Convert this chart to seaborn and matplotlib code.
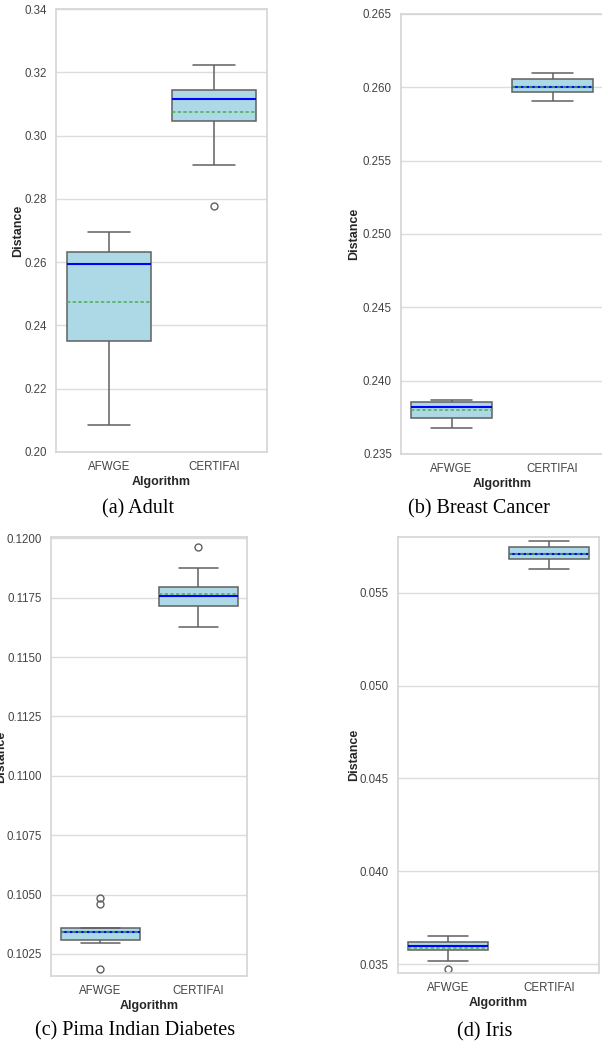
import numpy as np
import pandas as pd
import matplotlib
matplotlib.use("Agg")
import matplotlib.pyplot as plt
from matplotlib.ticker import FormatStrFormatter, MultipleLocator
import seaborn as sns

sns.set_theme(style="whitegrid")
plt.rcParams["font.family"] = ["Liberation Sans", "DejaVu Sans"]

algorithms = ["AFWGE", "CERTIFAI"]

# Counterfactual distances per run, one list per algorithm and dataset
adult_afwge = [0.2086, 0.2200, 0.2350, 0.2450, 0.2595, 0.2610, 0.2633, 0.2655, 0.2696]
adult_certifai = [0.2776, 0.2908, 0.3047, 0.3110, 0.3115, 0.3140, 0.3144, 0.3213, 0.3222]

cancer_afwge = [0.23677, 0.23710, 0.23748, 0.23790, 0.23823, 0.23847, 0.23857, 0.23862, 0.23868]
cancer_certifai = [0.25905, 0.25930, 0.25968, 0.25985, 0.26004, 0.26012, 0.26055, 0.26059, 0.26100]

pima_afwge = [0.10188, 0.10295, 0.10308, 0.10310, 0.10344, 0.10345, 0.10361, 0.10461, 0.10484]
pima_certifai = [0.11628, 0.11660, 0.11715, 0.11728, 0.11758, 0.11770, 0.11796, 0.11876, 0.11963]

iris_afwge = [0.03473, 0.03514, 0.03575, 0.03580, 0.03597, 0.03605, 0.03620, 0.03641, 0.03651]
iris_certifai = [0.05629, 0.05655, 0.05682, 0.05695, 0.05710, 0.05730, 0.05748, 0.05768, 0.05782]

captions = ["(a) Adult", "(b) Breast Cancer", "(c) Pima Indian Diabetes", "(d) Iris"]

W, H = 602, 1046
fig = plt.figure(figsize=(W / 100, H / 100), dpi=100)


def px_axes(x0, x1, y0, y1):
    return fig.add_axes([x0 / W, 1 - y1 / H, (x1 - x0) / W, (y1 - y0) / H])


panels = [
    dict(a=adult_afwge, c=adult_certifai, box=(56, 267, 9, 452), ylim=(0.20, 0.34),
         step=0.02, fmt="%.2f", lab=-0.15, cap=(138, 509)),
    dict(a=cancer_afwge, c=cancer_certifai, box=(401, 603, 14, 454), ylim=(0.235, 0.265),
         step=0.005, fmt="%.3f", lab=-0.20, cap=(479, 509)),
    dict(a=pima_afwge, c=pima_certifai, box=(51.3, 247.3, 537.3, 976), ylim=(0.10157, 0.12004),
         step=0.0025, fmt="%.4f", lab=-0.225, cap=(135, 1031)),
    dict(a=iris_afwge, c=iris_certifai, box=(398, 599, 537.3, 973.3), ylim=(0.0345, 0.0580),
         step=0.005, fmt="%.3f", lab=-0.19, cap=(485, 1032)),
]

edge = "#606060"
for p, cap in zip(panels, captions):
    ax = px_axes(*p["box"])
    df = pd.DataFrame({
        "Algorithm": [algorithms[0]] * len(p["a"]) + [algorithms[1]] * len(p["c"]),
        "Distance": p["a"] + p["c"],
    })
    sns.boxplot(
        data=df, x="Algorithm", y="Distance", ax=ax, order=algorithms,
        color="lightblue", saturation=1, linecolor=edge, linewidth=1.1, width=0.8,
        showmeans=True, meanline=True,
        medianprops=dict(color="blue", linewidth=1.5),
        meanprops=dict(color="#4caf50", linestyle=(0, (2.2, 1.5)), linewidth=1.1),
        flierprops=dict(marker="o", markerfacecolor="none", markeredgecolor=edge,
                        markersize=5, markeredgewidth=1.0),
    )
    ax.set_ylim(*p["ylim"])
    ax.yaxis.set_major_locator(MultipleLocator(p["step"]))
    ax.yaxis.set_major_formatter(FormatStrFormatter(p["fmt"]))
    ax.tick_params(axis="both", length=0, labelsize=8.3, colors="#444444", pad=6.5)
    ax.set_xlabel("Algorithm", fontsize=9, fontweight="bold", color="#262626", labelpad=2)
    ax.set_ylabel("Distance", fontsize=9, fontweight="bold", color="#262626")
    ax.yaxis.set_label_coords(p["lab"], 0.5)
    for s in ax.spines.values():
        s.set_color("#d6d6d6")
    ax.grid(axis="y", color="#dcdcdc", linewidth=1.0)
    fig.text(p["cap"][0] / W, 1 - p["cap"][1] / H, cap, ha="center", va="center",
             family="Liberation Serif", fontsize=14.5, color="black")

fig.savefig("out.png", dpi=100)
